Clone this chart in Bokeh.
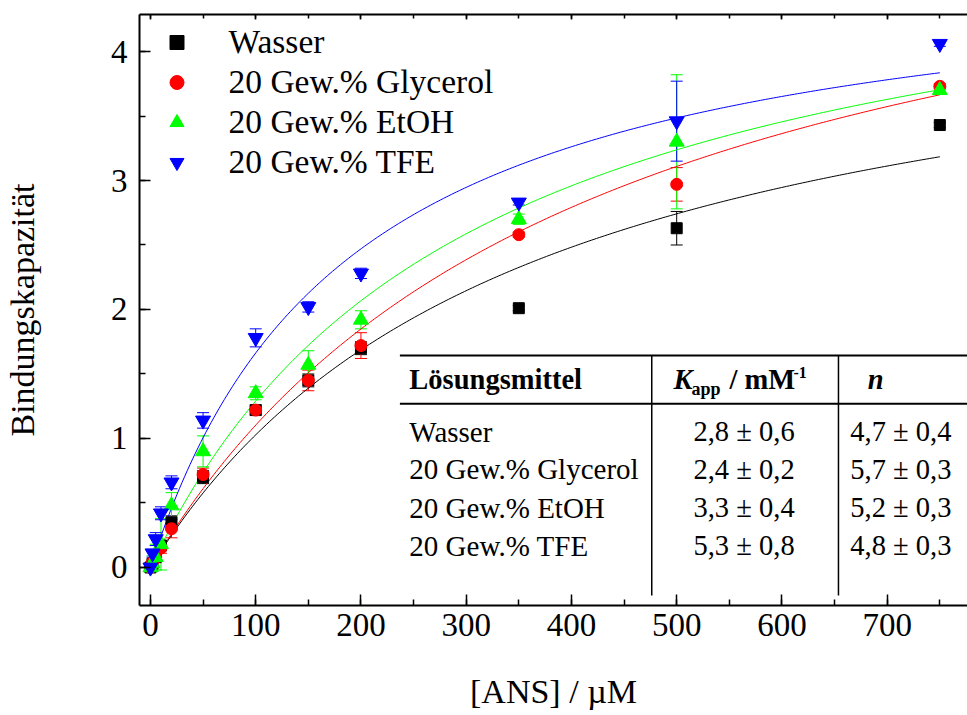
import numpy as np
from bokeh.plotting import figure
from bokeh.models import (Range1d, LinearAxis, SingleIntervalTicker, Whisker, ColumnDataSource,
                          Legend, LegendItem, Label, TeeHead)
from bokeh.embed import file_html
from bokeh.resources import INLINE

# ---------------- data ----------------
conc = [0, 2, 5, 10, 20, 50, 100, 150, 200, 350, 500, 750]  # [ANS] / µM

wasser = [0.0, 0.03, 0.08, 0.17, 0.35, 0.70, 1.22, 1.45, 1.70, 2.01, 2.63, 3.43]
wasser_err = [0.02, 0.02, 0.03, 0.03, 0.05, 0.05, 0.03, 0.05, 0.05, 0.02, 0.13, 0.02]

glycerol = [0.0, 0.04, 0.08, 0.15, 0.30, 0.72, 1.22, 1.45, 1.72, 2.58, 2.97, 3.73]
glycerol_err = [0.02, 0.02, 0.03, 0.04, 0.07, 0.05, 0.04, 0.08, 0.10, 0.02, 0.13, 0.02]

etoh = [0.0, 0.03, 0.08, 0.18, 0.48, 0.90, 1.35, 1.57, 1.92, 2.70, 3.30, 3.70]
etoh_err = [0.02, 0.06, 0.10, 0.20, 0.10, 0.12, 0.05, 0.11, 0.07, 0.04, 0.52, 0.03]

tfe = [0.0, 0.11, 0.22, 0.42, 0.66, 1.14, 1.78, 2.02, 2.28, 2.83, 3.46, 4.06]
tfe_err = [0.02, 0.03, 0.05, 0.05, 0.05, 0.06, 0.07, 0.04, 0.04, 0.02, 0.31, 0.02]

series_names = ["Wasser", "20 Gew.% Glycerol", "20 Gew.% EtOH", "20 Gew.% TFE"]
series_colors = ["#000000", "#ff0000", "#00ff00", "#0000ff"]
series_markers = ["square", "circle", "triangle", "inverted_triangle"]
series_sizes = [11, 12, 15, 15]

# fit parameters (table)
k_app = [2.8, 2.4, 3.3, 5.3]      # mM^-1
k_app_err = [0.6, 0.2, 0.4, 0.8]
n_sites = [4.7, 5.7, 5.2, 4.8]
n_sites_err = [0.4, 0.3, 0.3, 0.3]

x_ticks_interval = 100
y_ticks_interval = 1

FONT = "Liberation Serif"

def fmt(v, e):
    return (f"{v:.1f} \u00b1 {e:.1f}").replace(".", ",")

# ---------------- figure ----------------
X0, X1 = -10.4, 776.3
Y0, Y1 = -0.295, 4.287
p = figure(width=967, height=715, x_range=Range1d(X0, X1), y_range=Range1d(Y0, Y1),
           output_backend="svg", toolbar_location=None,
           min_border_left=137, min_border_right=0, min_border_top=14, min_border_bottom=110,
           x_axis_label="[ANS] / \u00b5M", y_axis_label="Bindungskapazit\u00e4t")
p.outline_line_color = None
p.grid.visible = False
p.background_fill_color = "white"
p.border_fill_color = "white"

p.xaxis.ticker = SingleIntervalTicker(interval=x_ticks_interval, num_minor_ticks=2)
p.yaxis.ticker = SingleIntervalTicker(interval=y_ticks_interval, num_minor_ticks=2)

for ax in list(p.xaxis) + list(p.yaxis):
    ax.axis_line_width = 2
    ax.major_tick_in = 11
    ax.major_tick_out = 0
    ax.minor_tick_in = 6
    ax.minor_tick_out = 0
    ax.major_tick_line_width = 1.5
    ax.minor_tick_line_width = 1.5
    ax.major_label_text_font = FONT
    ax.major_label_text_font_size = "33px"
    ax.major_label_text_color = "black"
    ax.axis_label_text_font = FONT
    ax.axis_label_text_font_size = "34px"
    ax.axis_label_text_font_style = "normal"
    ax.axis_label_text_color = "black"

p.yaxis.major_label_standoff = 12
p.yaxis.axis_label_standoff = 67
p.xaxis.major_label_standoff = 8
p.xaxis.axis_label_standoff = 34

top = LinearAxis(ticker=SingleIntervalTicker(interval=x_ticks_interval, num_minor_ticks=2),
                 major_label_text_font_size="10px", major_label_text_color=None,
                 major_label_standoff=0,
                 axis_line_width=2, major_tick_in=5, major_tick_out=0,
                 minor_tick_in=4, minor_tick_out=0,
                 major_tick_line_width=1.5, minor_tick_line_width=1.5)
p.add_layout(top, "above")

# ---------------- fit curves ----------------
x_fit = np.linspace(0, conc[-1], 300)
for K, n, col in zip(k_app, n_sites, series_colors):
    kx = K * x_fit / 1000.0
    p.line(x_fit, n * kx / (1 + kx), line_color=col, line_width=1)

# ---------------- data points ----------------
all_y = [wasser, glycerol, etoh, tfe]
all_e = [wasser_err, glycerol_err, etoh_err, tfe_err]
items = []
for name, ys, es, col, mk, sz in zip(series_names, all_y, all_e, series_colors,
                                     series_markers, series_sizes):
    src = ColumnDataSource(dict(x=conc, y=ys,
                                upper=[a + b for a, b in zip(ys, es)],
                                lower=[a - b for a, b in zip(ys, es)]))
    w = Whisker(base="x", upper="upper", lower="lower", source=src,
                line_color=col, line_width=1,
                upper_head=TeeHead(size=12, line_color=col, line_width=1),
                lower_head=TeeHead(size=12, line_color=col, line_width=1))
    p.add_layout(w)
    r = p.scatter("x", "y", source=src, marker=mk, size=sz, fill_color=col, line_color=col)
    items.append(LegendItem(label=name, renderers=[r]))

legend = Legend(items=items, location=(19.5, 423), glyph_width=35, glyph_height=40,
                label_height=40, spacing=0, padding=8, margin=0, label_standoff=35,
                border_line_color=None, background_fill_alpha=0,
                label_text_font=FONT, label_text_font_size="33.5px", label_text_color="black")
p.add_layout(legend)

# ---------------- table ----------------
tbl_left = 237
tbl_top = 1.643
tbl_head = 1.269
tbl_bottom = -0.217
tbl_col1 = 476.3
tbl_col2 = 653.7
txt_left = 246
col_k_center = 564
col_n_center = 713
head_y = 1.457
row_y = [1.054, 0.760, 0.461, 0.167]
TS_HEAD = "28.5px"
TS_NAME = "29px"
TS_NUM = "28.5px"

p.segment(x0=[tbl_left, tbl_left], y0=[tbl_top, tbl_head], x1=[X1, X1], y1=[tbl_top, tbl_head],
          line_color="black", line_width=2)
p.segment(x0=[tbl_col1, tbl_col2], y0=[tbl_top, tbl_top], x1=[tbl_col1, tbl_col2],
          y1=[tbl_bottom, tbl_bottom], line_color="black", line_width=1.5)

def lab(x, y, text, size, style="normal", align="left", xo=0, yo=0):
    p.add_layout(Label(x=x, y=y, text=text, text_font=FONT, text_font_size=size,
                       text_font_style=style, text_align=align, text_baseline="middle",
                       text_color="black", x_offset=xo, y_offset=yo))

lab(txt_left, head_y, "L\u00f6sungsmittel", TS_HEAD, style="bold")
k_head_x = 497
lab(k_head_x, head_y, "K", TS_HEAD, style="bold italic")
lab(k_head_x, head_y, "app", "18px", style="bold", xo=18, yo=-9)
lab(k_head_x, head_y, "/ mM", TS_HEAD, style="bold", xo=56)
lab(k_head_x, head_y, "-1", "16px", style="bold", xo=120, yo=7)
lab(689, head_y, "n", TS_HEAD, style="bold italic", align="center")

for name, yy, K, Ke, n, ne in zip(series_names, row_y, k_app, k_app_err, n_sites, n_sites_err):
    lab(txt_left, yy, name, TS_NAME)
    lab(col_k_center, yy, fmt(K, Ke), TS_NUM, align="center")
    lab(col_n_center, yy, fmt(n, ne), TS_NUM, align="center")

open("out.html", "w").write(file_html(p, INLINE))
